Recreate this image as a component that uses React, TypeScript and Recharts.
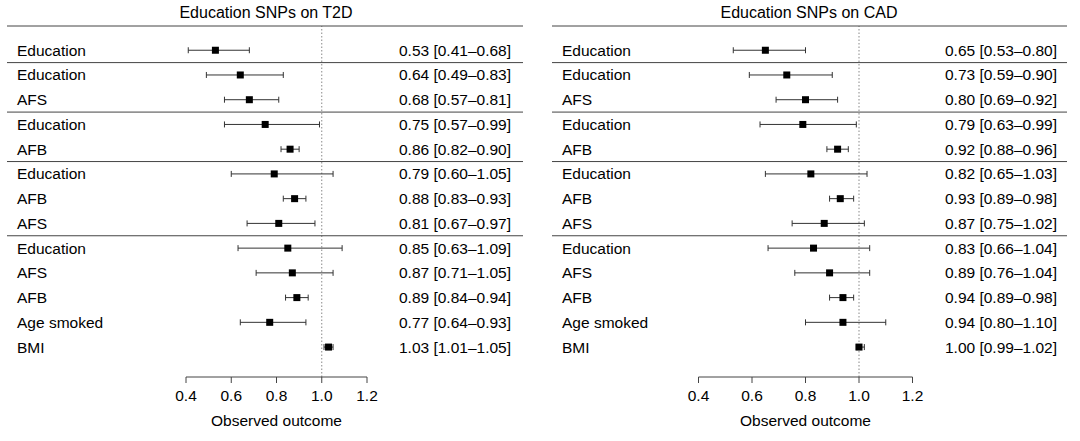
import React from 'react';
import { ScatterChart, Scatter, XAxis, YAxis, ErrorBar, ReferenceLine } from 'recharts';

// row labels shared by both panels (top to bottom)
const rowLabels = [
  'Education',
  'Education', 'AFS',
  'Education', 'AFB',
  'Education', 'AFB', 'AFS',
  'Education', 'AFS', 'AFB', 'Age smoked', 'BMI',
];
// positions between groups (in row units) where a rule is drawn
const groupBreaks = [0.5, 2.5, 4.5, 7.5];
const xTicks = [0.4, 0.6, 0.8, 1.0, 1.2];

// Education SNPs on T2D
const t2dEst = [0.53, 0.64, 0.68, 0.75, 0.86, 0.79, 0.88, 0.81, 0.85, 0.87, 0.89, 0.77, 1.03];
const t2dLow = [0.41, 0.49, 0.57, 0.57, 0.82, 0.60, 0.83, 0.67, 0.63, 0.71, 0.84, 0.64, 1.01];
const t2dHigh = [0.68, 0.83, 0.81, 0.99, 0.90, 1.05, 0.93, 0.97, 1.09, 1.05, 0.94, 0.93, 1.05];

// Education SNPs on CAD
const cadEst = [0.65, 0.73, 0.80, 0.79, 0.92, 0.82, 0.93, 0.87, 0.83, 0.89, 0.94, 0.94, 1.00];
const cadLow = [0.53, 0.59, 0.69, 0.63, 0.88, 0.65, 0.89, 0.75, 0.66, 0.76, 0.89, 0.80, 0.99];
const cadHigh = [0.80, 0.90, 0.92, 0.99, 0.96, 1.03, 0.98, 1.02, 1.04, 1.04, 0.98, 1.10, 1.02];

const Y_MIN = -0.98;
const Y_MAX = 13.21;

const INK = '#000';
const RULE = '#444';

interface PanelLayout {
  title: string;
  titleX: number;
  labelX: number;
  estX: number;
  lineX1: number;
  lineX2: number;
  axisWidth: number;
  marginRight: number;
}

const buildRows = (est: number[], low: number[], high: number[]) =>
  est.map((e, i) => ({
    row: i,
    est: e,
    err: [e - low[i], high[i] - e],
    text: `${e.toFixed(2)} [${low[i].toFixed(2)}–${high[i].toFixed(2)}]`,
  }));

const RowTick = (props: any) => {
  const { y, payload, rows, layout } = props;
  const v = payload.value;
  if (!Number.isInteger(v)) {
    return <line x1={layout.lineX1} x2={layout.lineX2} y1={y} y2={y} stroke={RULE} strokeWidth={1} />;
  }
  return (
    <g>
      <text x={layout.labelX} y={y} dominantBaseline="central" fill={INK}>{rowLabels[v]}</text>
      <text x={layout.estX} y={y} dominantBaseline="central" textAnchor="end" fill={INK}>{rows[v].text}</text>
    </g>
  );
};

const AxisTick = (props: any) => {
  const { x, y, payload } = props;
  return (
    <g>
      <line x1={x} x2={x} y1={y} y2={y + 6} stroke={RULE} />
      <text x={x} y={y + 18} textAnchor="middle" dominantBaseline="central" fill={INK}>
        {payload.value.toFixed(1)}
      </text>
    </g>
  );
};

const Square = (p: any) => <rect x={p.cx - 3.5} y={p.cy - 3.5} width={7} height={7} fill="#000" />;

const ForestPanel: React.FC<{ rows: ReturnType<typeof buildRows>; layout: PanelLayout }> = ({ rows, layout }) => (
  <div style={{ position: 'relative', width: 540, height: 441 }}>
    <div style={{ position: 'absolute', top: 4, left: layout.titleX - 150, width: 300, textAlign: 'center', lineHeight: '18px', fontSize: 16, color: INK }}>
      {layout.title}
    </div>
    <ScatterChart width={540} height={441} margin={{ top: 26, right: layout.marginRight, bottom: 8, left: 0 }}>
      <XAxis
        type="number"
        dataKey="est"
        domain={[0.4, 1.2]}
        ticks={xTicks}
        interval={0}
        height={56}
        tickSize={0}
        tickMargin={0}
        tickLine={false}
        stroke={RULE}
        tick={(p: any) => <AxisTick {...p} />}
        label={{ value: 'Observed outcome', position: 'insideBottom', offset: 7.5, fill: INK }}
      />
      <YAxis
        type="number"
        dataKey="row"
        domain={[Y_MIN, Y_MAX]}
        reversed
        allowDataOverflow
        ticks={[Y_MIN, ...groupBreaks, ...rows.map((r) => r.row)]}
        interval={0}
        width={layout.axisWidth}
        tickSize={0}
        tickMargin={0}
        axisLine={false}
        tickLine={false}
        tick={(p: any) => <RowTick {...p} rows={rows} layout={layout} />}
      />
      <ReferenceLine x={1} stroke="#888" strokeDasharray="1.5 2" />
      <Scatter data={rows} shape={Square} isAnimationActive={false}>
        <ErrorBar dataKey="err" direction="x" width={3} stroke="#333" strokeWidth={1} isAnimationActive={false} />
      </Scatter>
    </ScatterChart>
  </div>
);

const t2dLayout: PanelLayout = {
  title: 'Education SNPs on T2D', titleX: 266, labelX: 17, estX: 511,
  lineX1: 7, lineX2: 523, axisWidth: 186, marginRight: 173,
};
const cadLayout: PanelLayout = {
  title: 'Education SNPs on CAD', titleX: 269, labelX: 22, estX: 517,
  lineX1: 12, lineX2: 527, axisWidth: 158.5, marginRight: 167.5,
};

export default function App() {
  const t2dRows = buildRows(t2dEst, t2dLow, t2dHigh);
  const cadRows = buildRows(cadEst, cadLow, cadHigh);
  return (
    <div style={{ display: 'flex', width: 1080, height: 441, background: '#fff', fontFamily: '"Liberation Sans", Arial, sans-serif', fontSize: 15.5 }}>
      <style>{'body{margin:0}'}</style>
      <ForestPanel rows={t2dRows} layout={t2dLayout} />
      <ForestPanel rows={cadRows} layout={cadLayout} />
    </div>
  );
}
